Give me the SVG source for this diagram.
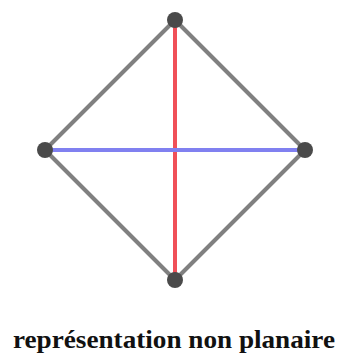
<svg xmlns="http://www.w3.org/2000/svg" width="342" height="355" viewBox="0 0 342 355">
<style>
.e{stroke:#808080;stroke-width:4;fill:none}
.n{fill:#4a4a4a}
.t{font-family:"Liberation Serif",serif;font-weight:bold;font-size:25px;fill:#111}
</style>
<rect width="342" height="355" fill="#fff"/>
<g id="connectors">
<line class="e" x1="175" y1="20" x2="45" y2="150"/>
<line class="e" x1="175" y1="20" x2="305" y2="150"/>
<line class="e" x1="45" y1="150" x2="175" y2="280"/>
<line class="e" x1="305" y1="150" x2="175" y2="280"/>
<line x1="175" y1="20" x2="175" y2="280" stroke="#f05058" stroke-width="4"/>
<line x1="45" y1="150" x2="305" y2="150" stroke="#8080f0" stroke-width="4"/>
</g>
<g id="n-top"><circle class="n" cx="175" cy="20" r="8"/></g>
<g id="n-left"><circle class="n" cx="45" cy="150" r="8"/></g>
<g id="n-right"><circle class="n" cx="305" cy="150" r="8"/></g>
<g id="n-bottom"><circle class="n" cx="175" cy="280" r="8"/></g>
<text class="t" x="13" y="348" textLength="322" lengthAdjust="spacingAndGlyphs">représentation non planaire</text>
</svg>
